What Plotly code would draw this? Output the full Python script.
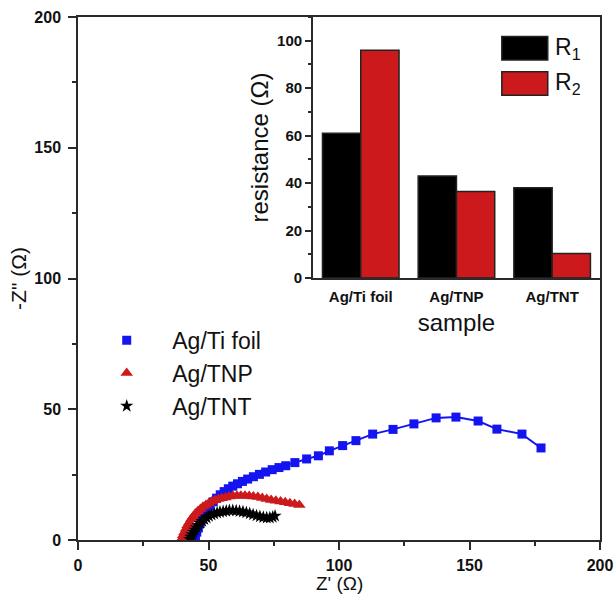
import plotly.graph_objects as go

# ---------------- data ----------------
ti_foil_x = [44.6, 45.0, 45.5, 46.1, 46.8, 47.6, 48.5, 49.5, 50.6, 51.8, 53.1, 54.5, 56.0, 57.6,
             59.3, 61.1, 63.0, 65.0, 67.2, 69.5, 71.9, 74.4, 77.0, 79.6, 83.1, 87.6, 92.1, 96.3,
             101.4, 106.5, 112.9, 120.7, 128.7, 137.2, 144.8, 153.3, 160.5, 170.1, 177.4]
ti_foil_y = [0.3, 1.5, 3.0, 4.6, 6.3, 8.0, 9.8, 11.5, 13.1, 14.6, 16.0, 17.3, 18.5, 19.6,
             20.6, 21.5, 22.4, 23.3, 24.2, 25.1, 26.0, 26.9, 27.7, 28.4, 29.6, 31.0, 32.2, 34.1,
             36.1, 38.0, 40.5, 42.3, 44.4, 46.7, 47.0, 45.5, 42.4, 40.5, 35.2]

tnp_x = [39.8, 40.3, 40.8, 41.4, 42.0, 42.7, 43.4, 44.2, 45.0, 45.9, 46.9, 47.9, 49.0, 50.1,
         51.3, 52.5, 53.8, 55.1, 56.5, 57.9, 59.4, 60.9, 62.4, 64.0, 65.6, 67.2, 68.9, 70.6,
         72.3, 74.0, 75.8, 77.6, 79.4, 81.2, 83.0, 84.8]
tnp_y = [0.5, 1.8, 3.0, 4.3, 5.6, 6.8, 8.0, 9.1, 10.1, 11.0, 11.9, 12.7, 13.4, 14.1,
         14.7, 15.2, 15.7, 16.0, 16.3, 16.6, 16.8, 16.9, 16.9, 16.9, 16.8, 16.6, 16.4, 16.1,
         15.7, 15.3, 15.0, 14.7, 14.4, 14.1, 13.8, 13.4]

tnt_x = [42.8, 43.2, 43.7, 44.2, 44.8, 45.4, 46.1, 46.8, 47.6, 48.4, 49.3, 50.2, 51.2, 52.2,
         53.3, 54.4, 55.6, 56.8, 58.0, 59.3, 60.6, 61.9, 63.2, 64.5, 65.8, 67.1, 68.4, 69.7,
         71.0, 72.3, 73.5, 74.6, 75.5]
tnt_y = [0.3, 1.2, 2.1, 3.0, 3.9, 4.8, 5.6, 6.4, 7.2, 7.9, 8.5, 9.1, 9.6, 10.0,
         10.4, 10.7, 10.9, 11.1, 11.3, 11.3, 11.2, 11.0, 10.8, 10.5, 10.1, 9.7, 9.3, 9.0,
         8.7, 8.5, 8.5, 8.8, 9.2]

samples = ["Ag/Ti foil", "Ag/TNP", "Ag/TNT"]
r1_values = [61, 43, 38]
r2_values = [96, 36.5, 10.3]

x_ticks_main = [0, 50, 100, 150, 200]
y_ticks_main = [0, 50, 100, 150, 200]
y_ticks_inset = [0, 20, 40, 60, 80, 100]

# ---------------- styles ----------------
BLUE = "#1414F0"
RED = "#CC1A1C"
BLACK = "#000000"
AXC = "#2a2a2a"
FONT = "Arial, Liberation Sans, sans-serif"
NB = "\u00a0" * 4

fig = go.Figure()

series = [
    ("Ag/Ti foil", ti_foil_x, ti_foil_y, BLUE, "square", 9, 2),
    ("Ag/TNP", tnp_x, tnp_y, RED, "triangle-up", 11, 1.5),
    ("Ag/TNT", tnt_x, tnt_y, BLACK, "star", 10, 1.5),
]
for name, xs, ys, col, sym, sz, lw in series:
    fig.add_trace(go.Scatter(x=xs, y=ys, mode="lines", line=dict(color=col, width=lw),
                             showlegend=False, hoverinfo="skip"))
    fig.add_trace(go.Scatter(x=xs, y=ys, mode="markers", name=NB + name,
                             marker=dict(color=col, symbol=sym, size=sz, line=dict(width=0))))

fig.add_trace(go.Bar(x=samples, y=r1_values, name="R1", xaxis="x2", yaxis="y2",
                     marker=dict(color=BLACK, line=dict(color="#222", width=1.5)),
                     showlegend=False))
fig.add_trace(go.Bar(x=samples, y=r2_values, name="R2", xaxis="x2", yaxis="y2",
                     marker=dict(color=RED, line=dict(color="#222", width=1.5)),
                     showlegend=False))

tickfont_main = dict(family=FONT, size=16, color="#111", weight="bold")
tickfont_inset = dict(family=FONT, size=15, color="#111", weight="bold")
fig.update_layout(
    width=614, height=598,
    margin=dict(l=78, r=14, t=17, b=58),
    paper_bgcolor="white", plot_bgcolor="white",
    barmode="group", bargap=0.2, bargroupgap=0,
    font=dict(family=FONT, color="#111"),
    xaxis=dict(domain=[0, 1], range=[0, 200], tickvals=x_ticks_main, automargin=False,
               showline=True, linecolor=AXC, linewidth=1.5, mirror=True,
               ticks="outside", ticklen=8, tickwidth=1.5, tickcolor=AXC,
               minor=dict(dtick=25, ticks="outside", ticklen=4, tickwidth=1.5, tickcolor=AXC),
               showgrid=False, zeroline=False,
               tickfont=tickfont_main, ticklabelstandoff=2),
    yaxis=dict(domain=[0, 1], range=[0, 200], tickvals=y_ticks_main, automargin=False,
               showline=True, linecolor=AXC, linewidth=1.5, mirror=True,
               ticks="outside", ticklen=8, tickwidth=1.5, tickcolor=AXC,
               minor=dict(dtick=25, ticks="outside", ticklen=4, tickwidth=1.5, tickcolor=AXC),
               showgrid=False, zeroline=False,
               tickfont=tickfont_main, ticklabelstandoff=4,
               title=dict(text='-Z" (Ω)', font=dict(family=FONT, size=21, color="#111"), standoff=2)),
    xaxis2=dict(domain=[0.45, 1.0], anchor="y2", range=[-0.5, 2.5], automargin=False,
                showline=True, linecolor=AXC, linewidth=1.5, mirror=True,
                ticks="", showgrid=False, zeroline=False,
                tickfont=tickfont_inset, ticklabelstandoff=4,
                title=dict(text="sample", font=dict(family=FONT, size=24, color="#111"), standoff=10)),
    yaxis2=dict(domain=[0.501, 1.0], anchor="x2", range=[0, 110], tickvals=y_ticks_inset,
                automargin=False,
                showline=True, linecolor=AXC, linewidth=1.5, mirror=True,
                ticks="outside", ticklen=6, tickwidth=1.5, tickcolor=AXC,
                minor=dict(dtick=10, ticks="outside", ticklen=3, tickwidth=1.5, tickcolor=AXC),
                showgrid=False, zeroline=False,
                tickfont=tickfont_inset,
                title=dict(text="resistance (Ω)", font=dict(family=FONT, size=24, color="#111"), standoff=2)),
    legend=dict(x=0.055, y=0.423, xanchor="left", yanchor="top",
                bgcolor="rgba(0,0,0,0)", borderwidth=0,
                font=dict(family=FONT, size=23, color="#111"),
                tracegroupgap=0),
)

# main x-axis title placed just below the tick labels
fig.add_annotation(xref="paper", yref="paper", x=0.5, y=-0.084, text="Z' (Ω)",
                   showarrow=False, xanchor="center", yanchor="middle",
                   font=dict(family=FONT, size=19, color="#111"))

# inset legend (R1 / R2) drawn in the inset's domain coordinates
leg_items = [("R<sub>1</sub>", BLACK, 0.925, 0.835), ("R<sub>2</sub>", RED, 0.79, 0.70)]
for label, col, ytop, ybot in leg_items:
    fig.add_shape(type="rect", xref="x2 domain", yref="y2 domain",
                  x0=0.658, x1=0.818, y0=ybot, y1=ytop,
                  fillcolor=col, line=dict(color="#222", width=1.5))
    fig.add_annotation(xref="x2 domain", yref="y2 domain", x=0.835, y=(ytop + ybot) / 2,
                       text=label, showarrow=False, xanchor="left", yanchor="middle",
                       font=dict(family=FONT, size=23, color="#111"))

fig.write_html("out.html")
